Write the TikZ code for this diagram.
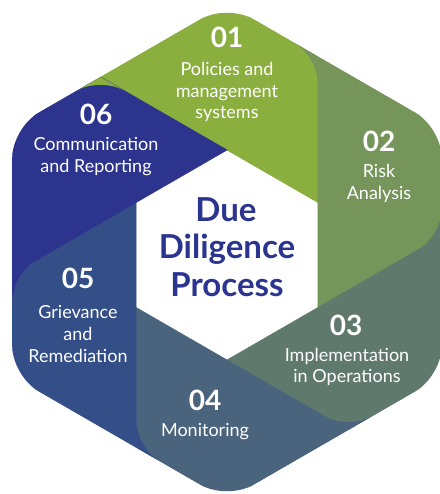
\documentclass[tikz,border=0pt]{standalone}
\usepackage{fontspec}
\setmainfont{Lato}
\usetikzlibrary{calc}
\definecolor{cA}{HTML}{8AAF3F}
\definecolor{cB}{HTML}{76955A}
\definecolor{cC}{HTML}{5F7A6C}
\definecolor{cD}{HTML}{4A647E}
\definecolor{cE}{HTML}{344E88}
\definecolor{cF}{HTML}{2C348E}
\definecolor{titlecol}{HTML}{2B3590}
\begin{document}
\begin{tikzpicture}[x=1pt,y=-1pt,
  num/.style={font=\fontsize{28}{28}\selectfont\bfseries, text=white, anchor=base, inner sep=0pt},
  lbl/.style={font=\fontsize{18}{20}\selectfont, text=white, anchor=base, inner sep=0pt},
  ttl/.style={font=\fontsize{33}{33}\selectfont\bfseries, text=titlecol, anchor=base, inner sep=0pt},
  piece/.style={line width=0.6pt, line join=round}]
\fill[white] (0,0) rectangle (439,494);
\useasboundingbox (0,0) rectangle (439,494);
% outer hexagon
\coordinate (O0) at (227,4);
\coordinate (O1) at (441.78,128);
\coordinate (O2) at (441.78,376);
\coordinate (O3) at (227,500);
\coordinate (O4) at (12.22,376);
\coordinate (O5) at (12.22,128);
% inner hexagon
\coordinate (I0) at (227,150);
\coordinate (I1) at (317.93,202.5);
\coordinate (I2) at (317.93,307.5);
\coordinate (I3) at (227,360);
\coordinate (I4) at (136.07,307.5);
\coordinate (I5) at (136.07,202.5);
% junctions
\coordinate (J0) at (intersection of I1--I2 and O0--O1);
\coordinate (J1) at (intersection of I2--I3 and O1--O2);
\coordinate (J2) at (intersection of I3--I4 and O2--O3);
\coordinate (J3) at (intersection of I4--I5 and O3--O4);
\coordinate (J4) at (intersection of I5--I0 and O4--O5);
\coordinate (J5) at (intersection of I0--I1 and O5--O0);
\begin{scope}
\clip[rounded corners=30pt] (O0) -- (O1) -- (O2) -- (O3) -- (O4) -- (O5) -- cycle;
\filldraw[piece, fill=cA, draw=cA] (I0) -- (J5) -- (O0) -- (J0) -- (I1) -- cycle;
\filldraw[piece, fill=cB, draw=cB] (I1) -- (J0) -- (O1) -- (J1) -- (I2) -- cycle;
\filldraw[piece, fill=cC, draw=cC] (I2) -- (J1) -- (O2) -- (J2) -- (I3) -- cycle;
\filldraw[piece, fill=cD, draw=cD] (I3) -- (J2) -- (O3) -- (J3) -- (I4) -- cycle;
\filldraw[piece, fill=cE, draw=cE] (I4) -- (J3) -- (O4) -- (J4) -- (I5) -- cycle;
\filldraw[piece, fill=cF, draw=cF] (I5) -- (J4) -- (O5) -- (J5) -- (I0) -- cycle;
% rounded corners of each piece, revealing the next piece
\fill[cB] ($(J0)!27pt!(O0)$) -- (J0) -- ($(J0)!27pt!(I1)$) .. controls ($(J0)!12pt!(I1)$) and ($(J0)!12pt!(O0)$) .. ($(J0)!27pt!(O0)$) -- cycle;
\fill[cC] ($(J1)!27pt!(O1)$) -- (J1) -- ($(J1)!27pt!(I2)$) .. controls ($(J1)!12pt!(I2)$) and ($(J1)!12pt!(O1)$) .. ($(J1)!27pt!(O1)$) -- cycle;
\fill[cD] ($(J2)!27pt!(O2)$) -- (J2) -- ($(J2)!27pt!(I3)$) .. controls ($(J2)!12pt!(I3)$) and ($(J2)!12pt!(O2)$) .. ($(J2)!27pt!(O2)$) -- cycle;
\fill[cE] ($(J3)!27pt!(O3)$) -- (J3) -- ($(J3)!27pt!(I4)$) .. controls ($(J3)!12pt!(I4)$) and ($(J3)!12pt!(O3)$) .. ($(J3)!27pt!(O3)$) -- cycle;
\fill[cF] ($(J4)!27pt!(O4)$) -- (J4) -- ($(J4)!27pt!(I5)$) .. controls ($(J4)!12pt!(I5)$) and ($(J4)!12pt!(O4)$) .. ($(J4)!27pt!(O4)$) -- cycle;
\fill[cA] ($(J5)!27pt!(O5)$) -- (J5) -- ($(J5)!27pt!(I0)$) .. controls ($(J5)!12pt!(I0)$) and ($(J5)!12pt!(O5)$) .. ($(J5)!27pt!(O5)$) -- cycle;
\end{scope}
% texts
\node[num] (n1) at (227,48) {01};
\node[lbl] (l1a) at (227,76) {Policies and};
\node[lbl] (l1b) at (227,97.5) {management};
\node[lbl] (l1c) at (227,118.5) {systems};
\node[num] (n2) at (379,152) {02};
\node[lbl] (l2a) at (379,178) {Risk};
\node[lbl] (l2b) at (379,200) {Analysis};
\node[num] (n3) at (346,335) {03};
\node[lbl] (l3a) at (347,361) {Implementation};
\node[lbl] (l3b) at (347,382) {in Operations};
\node[num] (n4) at (205,410) {04};
\node[lbl] (l4a) at (205,436) {Monitoring};
\node[num] (n5) at (78,288) {05};
\node[lbl] (l5a) at (78,318) {Grievance};
\node[lbl] (l5b) at (78,340) {and};
\node[lbl] (l5c) at (78,362) {Remediation};
\node[num] (n6) at (96,125) {06};
\node[lbl] (l6a) at (96,151) {Communication};
\node[lbl] (l6b) at (96,173) {and Reporting};
\node[ttl] (t1) at (226,221) {Due};
\node[ttl] (t2) at (227,258) {Diligence};
\node[ttl] (t3) at (227,296) {Process};
\end{tikzpicture}
\end{document}
